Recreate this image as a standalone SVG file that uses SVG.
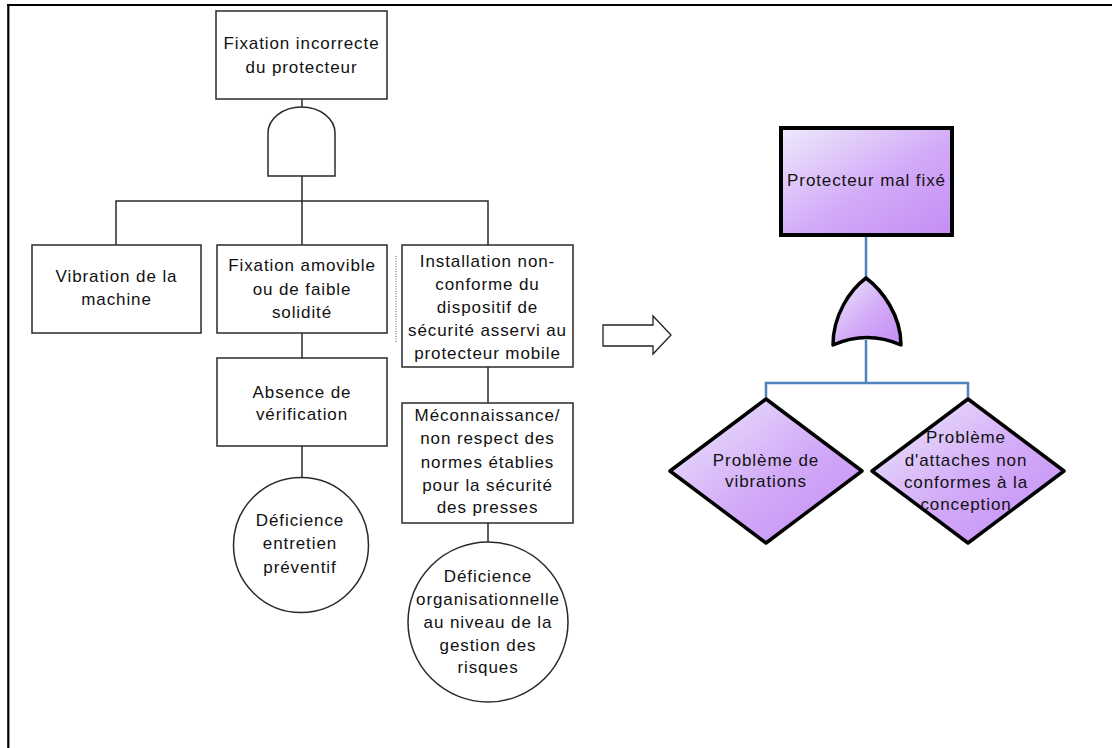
<svg xmlns="http://www.w3.org/2000/svg" width="1112" height="748" viewBox="0 0 1112 748">
  <style>
    .t { font-family: "Liberation Sans", Arial, sans-serif; font-size: 17px; letter-spacing: 0.9px; fill: #111; text-anchor: middle; }
    .box { fill: #fff; stroke: #2a2a2a; stroke-width: 1.5; }
    .wire { fill: none; stroke: #2a2a2a; stroke-width: 1.5; }
    .bwire { fill: none; stroke: #4f81bd; stroke-width: 2.5; }
    .pbox { fill: url(#purple); stroke: #000; stroke-width: 4; }
    .pshape { fill: url(#purple); stroke: #000; stroke-width: 3.5; stroke-linejoin: round; }
  </style>
  <defs>
    <linearGradient id="purple" x1="0" y1="0" x2="1" y2="1">
      <stop offset="0" stop-color="#eeeafb"/>
      <stop offset="0.55" stop-color="#d2aaf8"/>
      <stop offset="1" stop-color="#c48cf5"/>
    </linearGradient>
  </defs>

  <rect width="1112" height="748" fill="#fff"/>

  <!-- page frame (left and top edges) -->
  <g id="frame" fill="none" stroke="#000" stroke-width="2.2">
    <line x1="8.3" y1="4" x2="8.3" y2="748"/>
    <line x1="7" y1="5" x2="1112" y2="5"/>
  </g>

  <!-- connectors -->
  <g id="connectors">
    <path class="wire" d="M302,99 V107"/>
    <path class="wire" d="M302,176 V201 M116,245 V201 H488 V245 M302,201 V245"/>
    <path class="wire" d="M302,333 V358"/>
    <path class="wire" d="M302,446 V477"/>
    <path class="wire" d="M488,367 V403"/>
    <path class="wire" d="M488,523 V542"/>
    <line x1="396" y1="256" x2="396" y2="343" stroke="#555" stroke-width="1" stroke-dasharray="1,1.5"/>
    <path class="bwire" d="M866,235 V278"/>
    <path class="bwire" d="M866,340 V383 M766,399 V383 H968 V399"/>
  </g>

  <!-- left tree -->
  <g id="top-event">
    <rect class="box" x="216" y="11" width="171" height="88"/>
    <text class="t" x="301.5" y="49">Fixation incorrecte</text>
    <text class="t" x="301.5" y="73">du protecteur</text>
  </g>

  <g id="and-gate">
    <path class="box" d="M268,176 V133 A33.5,26 0 0 1 335,133 V176 Z"/>
  </g>

  <g id="vibration">
    <rect class="box" x="32" y="245" width="169" height="88"/>
    <text class="t" x="116.5" y="282">Vibration de la</text>
    <text class="t" x="116.5" y="305">machine</text>
  </g>

  <g id="fixation-amovible">
    <rect class="box" x="217" y="245" width="170" height="88"/>
    <text class="t" x="302" y="271">Fixation amovible</text>
    <text class="t" x="302" y="295">ou de faible</text>
    <text class="t" x="302" y="318">solidité</text>
  </g>

  <g id="installation">
    <rect class="box" x="402" y="245" width="171" height="122"/>
    <text class="t" x="487.5" y="267">Installation non-</text>
    <text class="t" x="487.5" y="290">conforme du</text>
    <text class="t" x="487.5" y="313">dispositif de</text>
    <text class="t" x="487.5" y="336">sécurité asservi au</text>
    <text class="t" x="487.5" y="359">protecteur mobile</text>
  </g>

  <g id="absence">
    <rect class="box" x="217" y="358" width="170" height="88"/>
    <text class="t" x="302" y="398">Absence de</text>
    <text class="t" x="302" y="420">vérification</text>
  </g>

  <g id="meconnaissance">
    <rect class="box" x="402" y="403" width="171" height="120"/>
    <text class="t" x="487.5" y="421">Méconnaissance/</text>
    <text class="t" x="487.5" y="444">non respect des</text>
    <text class="t" x="487.5" y="468">normes établies</text>
    <text class="t" x="487.5" y="491">pour la sécurité</text>
    <text class="t" x="487.5" y="513">des presses</text>
  </g>

  <g id="deficience-entretien">
    <circle class="box" cx="301" cy="545" r="67.5"/>
    <text class="t" x="300" y="526">Déficience</text>
    <text class="t" x="300" y="549">entretien</text>
    <text class="t" x="300" y="573">préventif</text>
  </g>

  <g id="deficience-organisationnelle">
    <circle class="box" cx="488" cy="622" r="80"/>
    <text class="t" x="488" y="582">Déficience</text>
    <text class="t" x="488" y="605">organisationnelle</text>
    <text class="t" x="488" y="628">au niveau de la</text>
    <text class="t" x="488" y="651">gestion des</text>
    <text class="t" x="488" y="673">risques</text>
  </g>

  <!-- transformation arrow -->
  <g id="arrow">
    <path d="M603,325 H653 V316 L671,335 L653,354 V346 H603 Z" fill="#fff" stroke="#222" stroke-width="1.3"/>
  </g>

  <!-- right tree -->
  <g id="protecteur">
    <rect class="pbox" x="781" y="128" width="171" height="107"/>
    <text class="t" x="866.5" y="186">Protecteur mal fixé</text>
  </g>

  <g id="or-gate">
    <path class="pshape" d="M833,345 C833,315 850,290 866,278 C882,290 901,315 901,345 Q867,330 833,345 Z"/>
  </g>

  <g id="probleme-vibrations">
    <path class="pshape" d="M766,399 L862,471 L766,543 L670,471 Z"/>
    <text class="t" x="766" y="466">Problème de</text>
    <text class="t" x="766" y="487">vibrations</text>
  </g>

  <g id="probleme-attaches">
    <path class="pshape" d="M968,399 L1064,471 L968,543 L872,471 Z"/>
    <text class="t" x="966" y="443">Problème</text>
    <text class="t" x="966" y="466">d'attaches non</text>
    <text class="t" x="966" y="488">conformes à la</text>
    <text class="t" x="966" y="510">conception</text>
  </g>
</svg>
